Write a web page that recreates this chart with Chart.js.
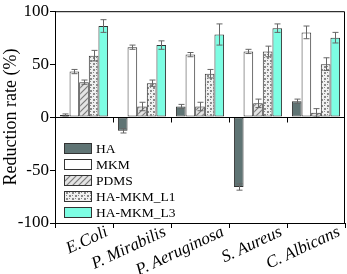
<!DOCTYPE html>
<html>
<head>
<meta charset="utf-8">
<script src="https://cdn.jsdelivr.net/npm/chart.js@4.4.0/dist/chart.umd.min.js"></script>
<style>
    html, body { margin: 0; padding: 0; background: #fff; }
    #wrap { width: 347px; height: 274px; }
</style>
</head>
<body>
<div id="wrap"><canvas id="barChart"></canvas></div>
<script>
// Data
const categories = ['E.Coli', 'P. Mirabilis', 'P. Aeruginosa', 'S. Aureus', 'C. Albicans'];
const seriesNames = ['HA', 'MKM', 'PDMS', 'HA-MKM_L1', 'HA-MKM_L3'];
const haValues = [2, -13, 10, -66, 15];
const mkmValues = [43, 66, 59, 62, 80];
const pdmsValues = [33, 10, 10, 13, 4];
const l1Values = [58, 32, 41, 62, 50];
const l3Values = [86, 68, 78, 84, 75];
const haErr = [1, 2, 2, 3, 2];
const mkmErr = [2, 2, 2, 2, 6];
const pdmsErr = [2, 4, 4, 4, 4];
const l1Err = [5, 3, 4, 5, 6];
const l3Err = [6, 4, 10, 4, 5];
const yTicks = [-100, -50, 0, 50, 100];

// Fill patterns
function makePattern(draw) {
    const c = document.createElement('canvas');
    c.width = 6; c.height = 6;
    const g = c.getContext('2d');
    draw(g);
    return c.getContext('2d').createPattern(c, 'repeat');
}
const hatch = makePattern(function (g) {
    g.fillStyle = '#e4e4e4';
    g.fillRect(0, 0, 6, 6);
    g.strokeStyle = '#7a7a7a';
    g.lineWidth = 1.2;
    g.beginPath();
    g.moveTo(0, 6); g.lineTo(6, 0);
    g.moveTo(-3, 3); g.lineTo(3, -3);
    g.moveTo(3, 9); g.lineTo(9, 3);
    g.stroke();
});
const checker = makePattern(function (g) {
    g.fillStyle = '#f0f0f0';
    g.fillRect(0, 0, 6, 6);
    g.fillStyle = '#8a8a8a';
    g.fillRect(0, 0, 2, 2);
    g.fillRect(3, 3, 2, 2);
    g.fillRect(3, 0, 1, 1);
    g.fillRect(0, 3, 1, 1);
});

const fills = ['#5f7474', '#ffffff', hatch, checker, '#7dfde3'];
const values = [haValues, mkmValues, pdmsValues, l1Values, l3Values];
const errors = [haErr, mkmErr, pdmsErr, l1Err, l3Err];

// Error bars
const errorBars = {
    id: 'errorBars',
    afterDatasetsDraw(chart) {
        const c = chart.ctx;
        const y = chart.scales.y;
        c.save();
        c.strokeStyle = '#666';
        c.lineWidth = 1;
        chart.data.datasets.forEach(function (ds, i) {
            chart.getDatasetMeta(i).data.forEach(function (bar, j) {
                const v = ds.data[j], e = errors[i][j];
                const x = Math.round(bar.x) + 0.5;
                const y1 = y.getPixelForValue(v + e), y2 = y.getPixelForValue(v - e);
                c.beginPath();
                c.moveTo(x, y1); c.lineTo(x, y2);
                c.moveTo(x - 3, y1); c.lineTo(x + 3, y1);
                c.moveTo(x - 3, y2); c.lineTo(x + 3, y2);
                c.stroke();
            });
        });
        c.restore();
    }
};

// Frame, zero line and legend inside the plot
const frame = {
    id: 'frame',
    afterDraw(chart) {
        const c = chart.ctx;
        const a = chart.chartArea;
        const x = chart.scales.x;
        const y0 = Math.round(chart.scales.y.getPixelForValue(0)) + 0.5;
        c.save();
        c.strokeStyle = '#000';
        c.lineWidth = 1;
        c.beginPath();
        c.moveTo(a.left, a.top + 0.5); c.lineTo(a.right - 0.5, a.top + 0.5); c.lineTo(a.right - 0.5, a.bottom);
        c.moveTo(a.left, y0); c.lineTo(a.right, y0);
        for (let k = 1; k < categories.length; k++) {
            const bx = Math.round((x.getPixelForValue(k - 1) + x.getPixelForValue(k)) / 2) + 0.5;
            c.moveTo(bx, y0); c.lineTo(bx, y0 + 5);
        }
        c.stroke();

        // legend
        c.font = '13.5px "Liberation Serif"';
        c.textBaseline = 'middle';
        seriesNames.forEach(function (name, i) {
            const ly = 143 + i * 16;
            c.fillStyle = fills[i];
            c.fillRect(64, ly, 28, 11);
            c.strokeStyle = '#333';
            c.strokeRect(64.5, ly + 0.5, 27, 10);
            c.fillStyle = '#000';
            c.fillText(name, 96, ly + 6);
        });
        c.restore();
    }
};

const ctx = document.getElementById('barChart');

new Chart(ctx, {
    type: 'bar',
    data: {
        labels: categories,
        datasets: seriesNames.map(function (name, i) {
            return {
                label: name,
                data: values[i],
                backgroundColor: fills[i],
                borderColor: '#333',
                borderWidth: 1,
                borderSkipped: false
            };
        })
    },
    plugins: [errorBars, frame],
    options: {
        responsive: true,
        maintainAspectRatio: false,
        animation: false,
        devicePixelRatio: 1,
        barPercentage: 1,
        categoryPercentage: 0.83,
        layout: { padding: { top: 7, right: 2, left: 0, bottom: 0 } },
        scales: {
            x: {
                offset: true,
                grid: {
                    offset: true,
                    drawOnChartArea: false,
                    tickLength: 5,
                    color: '#000'
                },
                border: { color: '#000' },
                ticks: {
                    color: '#000',
                    autoSkip: false,
                    minRotation: 25,
                    maxRotation: 25,
                    labelOffset: 23,
                    padding: -6,
                    font: { family: 'Liberation Serif', size: 17, style: 'italic' }
                },
                afterFit: function (s) { s.height = 51; }
            },
            y: {
                min: -100,
                max: 100,
                afterBuildTicks: function (s) { s.ticks = yTicks.map(function (v) { return { value: v }; }); },
                grid: {
                    drawOnChartArea: false,
                    tickLength: 5,
                    color: '#000'
                },
                border: { color: '#000' },
                ticks: {
                    color: '#000',
                    padding: 1,
                    font: { family: 'Liberation Serif', size: 17 }
                },
                title: {
                    display: true,
                    text: 'Reduction rate (%)',
                    color: '#000',
                    padding: 0,
                    font: { family: 'Liberation Serif', size: 18 }
                },
                afterFit: function (s) { s.width = 55; }
            }
        },
        plugins: {
            legend: { display: false },
            tooltip: { enabled: false }
        }
    }
});
</script>
</body>
</html>
